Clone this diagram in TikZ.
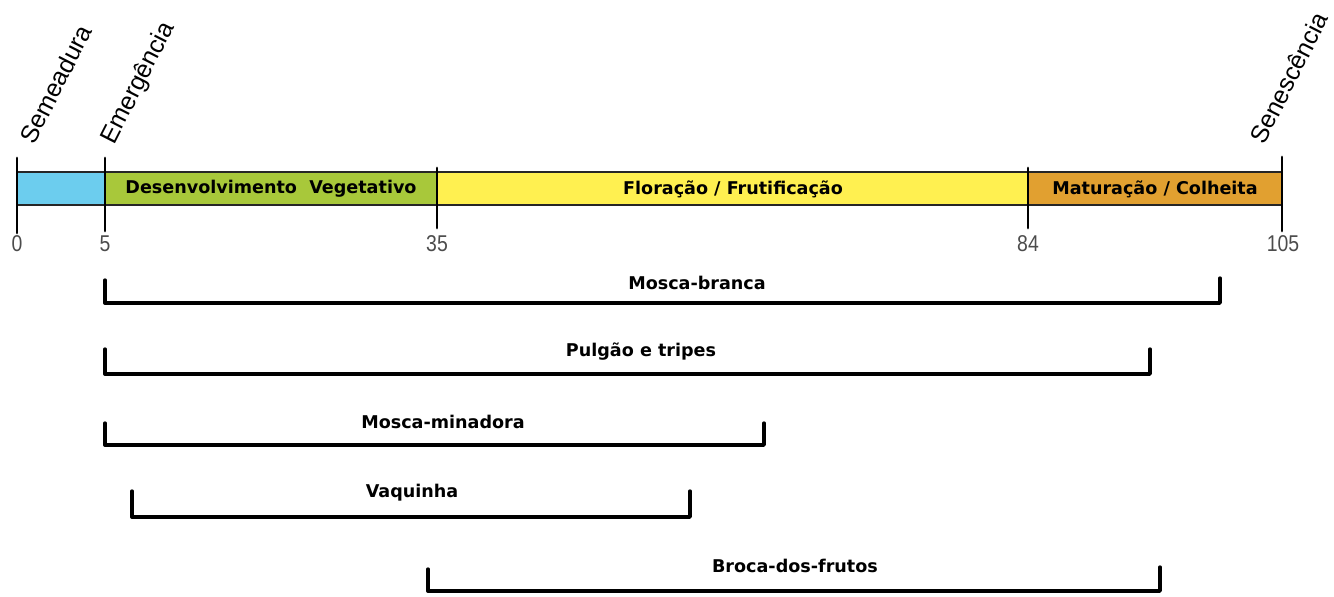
\documentclass[tikz,border=0pt]{standalone}
\usepackage{fontspec}
\setmainfont{Liberation Sans}
\newfontfamily\rotfont{DejaVu Sans}
\usetikzlibrary{calc}
\definecolor{semcol}{HTML}{6CCDEE}
\definecolor{vegcol}{HTML}{A8C83A}
\definecolor{flocol}{HTML}{FFF050}
\definecolor{matcol}{HTML}{E1A030}

\begin{document}
\begin{tikzpicture}[x=0.02cm,y=-0.02cm,
    fase/.style={draw=black!85, line width=0.7pt},
    marco/.style={line width=1.6pt, line cap=round},
    praga/.style={line width=1.9pt, line cap=round, line join=round},
    rotulo/.style={font=\rotfont\fontsize{10}{12}\selectfont\bfseries, inner sep=1pt},
    dia/.style={font=\fontsize{13}{15}\selectfont, text=black!70, xscale=0.85, inner sep=0pt},
    evento/.style={font=\fontsize{14.2}{17}\selectfont, rotate=63, anchor=base west, inner sep=0pt}]
    \useasboundingbox (0,0) rectangle (1334,596);
    % fases
    \draw[fase, fill=semcol] (17,172) rectangle (105,205);
    \draw[fase, fill=vegcol] (105,172) rectangle (437,205);
    \draw[fase, fill=flocol] (437,172) rectangle (1028,205);
    \draw[fase, fill=matcol] (1028,172) rectangle (1282,205);
    \node[rotulo] (veg) at (271,189) {Desenvolvimento\ \ Vegetativo};
    \node[rotulo] (flo) at (733,189) {Floração / Frutificação};
    \node[rotulo] (mat) at (1155,189) {Maturação / Colheita};
    % marcos
    \draw[marco] (17,158)--(17,233);
    \draw[marco] (105,158)--(105,231);
    \draw[marco] (437,168)--(437,228);
    \draw[marco] (1028,168)--(1028,228);
    \draw[marco] (1282,157)--(1282,231);
    \node[dia] (d0) at (17,244) {0};
    \node[dia] (d5) at (105,244) {5};
    \node[dia] (d35) at (437,244) {35};
    \node[dia] (d84) at (1028,244) {84};
    \node[dia] (d105) at (1283,244) {105};
    \node[evento] (sem) at (34,146) {Semeadura};
    \node[evento] (eme) at (114,146) {Emergência};
    \node[evento] (sen) at (1264,146) {Senescência};
    % pragas
    \draw[praga] (105,280)--(105,303)--(1220,303)--(1220,278);
    \node[rotulo] (mb) at (697,283) {Mosca-branca};
    \draw[praga] (105,349)--(105,374)--(1150,374)--(1150,349);
    \node[rotulo] (pt) at (641,352) {Pulgão e tripes};
    \draw[praga] (105,423)--(105,445)--(764,445)--(764,423);
    \node[rotulo] (mm) at (443,422) {Mosca-minadora};
    \draw[praga] (132,491)--(132,517)--(690,517)--(690,491);
    \node[rotulo] (vq) at (412,493) {Vaquinha};
    \draw[praga] (428,569)--(428,591)--(1160,591)--(1160,567);
    \node[rotulo] (bf) at (795,566) {Broca-dos-frutos};
\end{tikzpicture}
\end{document}
